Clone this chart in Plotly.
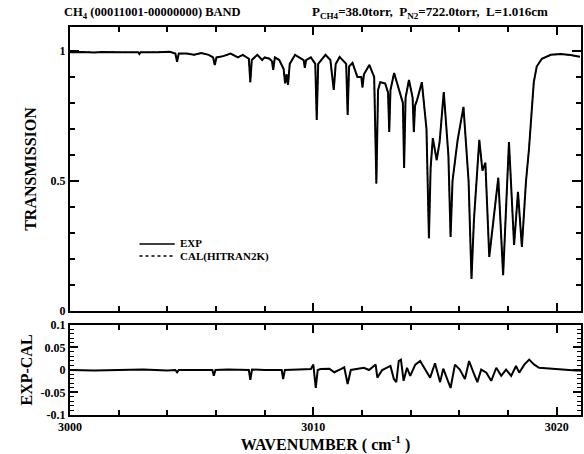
import plotly.graph_objects as go
from plotly.subplots import make_subplots

# ---- data ----
wavenumber = [3000.0, 3000.5, 3001.0, 3001.3, 3002.0, 3002.5, 3002.8, 3002.85, 3002.9, 3003.6, 3004.1,
              3004.33, 3004.40, 3004.47, 3004.8, 3005.1, 3005.4, 3005.7, 3005.88, 3005.95, 3006.02, 3006.3,
              3006.6, 3006.9, 3007.1, 3007.35, 3007.41, 3007.47, 3007.7, 3007.9, 3008.0, 3008.2, 3008.3,
              3008.35, 3008.42, 3008.6, 3008.78, 3008.84, 3008.9, 3008.96, 3009.03, 3009.25, 3009.45, 3009.6,
              3009.65, 3009.7, 3009.9, 3010.08, 3010.14, 3010.2, 3010.5, 3010.7, 3010.84, 3010.92, 3011.08,
              3011.35, 3011.41, 3011.47, 3011.61, 3011.73, 3011.81, 3011.97, 3012.02, 3012.08, 3012.30, 3012.5,
              3012.59, 3012.66, 3012.75, 3012.95, 3013.07, 3013.12, 3013.17, 3013.32, 3013.52, 3013.68, 3013.73,
              3013.79, 3013.93, 3014.08, 3014.13, 3014.18, 3014.26, 3014.46, 3014.65, 3014.75, 3014.82, 3014.91,
              3015.07, 3015.19, 3015.36, 3015.55, 3015.64, 3015.72, 3015.93, 3016.17, 3016.38, 3016.50, 3016.6,
              3016.82, 3016.95, 3017.07, 3017.23, 3017.39, 3017.60, 3017.80, 3018.04, 3018.25, 3018.41, 3018.57,
              3018.74, 3018.86, 3018.94, 3019.06, 3019.18, 3019.39, 3019.76, 3020.16, 3020.57, 3020.95]
transmission_exp = [0.995, 0.996, 0.994, 0.996, 0.995, 0.996, 0.995, 0.988, 0.995, 0.995, 0.997,
                    0.990, 0.958, 0.990, 0.990, 0.985, 0.992, 0.985, 0.975, 0.946, 0.975, 0.980,
                    0.990, 0.975, 0.985, 0.970, 0.880, 0.965, 0.985, 0.965, 0.975, 0.970, 0.960,
                    0.927, 0.975, 0.965, 0.930, 0.875, 0.910, 0.870, 0.950, 0.985, 0.975, 0.965,
                    0.935, 0.965, 0.975, 0.950, 0.735, 0.950, 0.985, 0.965, 0.850, 0.950, 0.977,
                    0.950, 0.754, 0.940, 0.954, 0.920, 0.900, 0.900, 0.860, 0.910, 0.946, 0.900,
                    0.490, 0.850, 0.880, 0.875, 0.840, 0.688, 0.850, 0.915, 0.850, 0.800, 0.550,
                    0.820, 0.888, 0.820, 0.688, 0.790, 0.810, 0.880, 0.700, 0.280, 0.550, 0.665,
                    0.580, 0.650, 0.842, 0.600, 0.285, 0.500, 0.658, 0.785, 0.500, 0.123, 0.350,
                    0.658, 0.540, 0.570, 0.208, 0.330, 0.512, 0.138, 0.650, 0.254, 0.458, 0.246,
                    0.500, 0.620, 0.730, 0.880, 0.940, 0.970, 0.985, 0.988, 0.984, 0.978]
transmission_cal = list(transmission_exp)  # overlaps EXP at the picture's resolution

res_wavenumber = [3000.0, 3001.0, 3002.0, 3003.0, 3004.0, 3004.33, 3004.4, 3004.47, 3005.0, 3005.85,
                  3005.91, 3005.98, 3006.5, 3007.35, 3007.41, 3007.48, 3008.0, 3008.7, 3008.76, 3008.83,
                  3009.4, 3009.9, 3010.0, 3010.1, 3010.18, 3010.3, 3010.66, 3010.86, 3011.13, 3011.27,
                  3011.41, 3011.54, 3012.08, 3012.29, 3012.56, 3012.63, 3012.83, 3013.03, 3013.17, 3013.31,
                  3013.41, 3013.51, 3013.60, 3013.71, 3013.85, 3013.98, 3014.19, 3014.39, 3014.60, 3014.80,
                  3015.00, 3015.21, 3015.34, 3015.48, 3015.64, 3015.82, 3016.02, 3016.23, 3016.40, 3016.57,
                  3016.74, 3016.90, 3017.11, 3017.31, 3017.52, 3017.72, 3017.92, 3018.13, 3018.33, 3018.46,
                  3018.67, 3018.87, 3019.08, 3019.28, 3019.55, 3019.96, 3020.78, 3021.0]
residual = [0.0, -0.001, 0.0, 0.001, -0.001, 0.0, -0.005, 0.0, 0.0, 0.0,
            -0.013, 0.0, 0.001, 0.0, -0.022, 0.001, 0.0, 0.0, -0.020, 0.0,
            0.001, 0.002, 0.012, -0.040, 0.0, 0.002, 0.003, -0.005, 0.002, 0.006,
            -0.031, 0.0, 0.005, 0.0, 0.012, -0.017, 0.0, 0.005, 0.009, -0.020,
            -0.027, 0.020, 0.023, -0.024, 0.005, -0.013, 0.012, 0.020, 0.001, -0.017,
            0.015, -0.027, 0.003, -0.017, -0.040, 0.012, 0.001, -0.020, 0.020, -0.004,
            -0.027, 0.001, -0.006, -0.024, 0.005, -0.013, 0.001, -0.013, 0.009, -0.006,
            0.012, 0.023, 0.012, 0.005, 0.004, 0.001, -0.001, -0.001]

x_tick_vals = [3000, 3010, 3020]
x_tick_text = ["3000", "3010", "3020"]
top_tick_vals = [0, 0.5, 1]
top_tick_text = ["0", "0.5", "1"]
bot_tick_vals = [-0.1, -0.05, 0, 0.05, 0.1]
bot_tick_text = ["-0.1", "-0.05", "0", "0.05", "0.1"]

FONT = "Liberation Serif"

fig = make_subplots(rows=2, cols=1, shared_xaxes=False, vertical_spacing=0.0)

fig.add_trace(go.Scatter(x=wavenumber, y=transmission_cal, mode="lines", name="CAL(HITRAN2K)",
                         line=dict(color="black", width=1.2, dash="dot"), showlegend=False), row=1, col=1)
fig.add_trace(go.Scatter(x=wavenumber, y=transmission_exp, mode="lines", name="EXP",
                         line=dict(color="black", width=2), showlegend=False), row=1, col=1)
fig.add_trace(go.Scatter(x=res_wavenumber, y=residual, mode="lines", name="EXP-CAL",
                         line=dict(color="black", width=2), showlegend=False), row=2, col=1)

axis_common = dict(showline=True, linecolor="black", linewidth=2, mirror="ticks",
                   ticks="inside", tickcolor="black", tickwidth=1.5, showgrid=False, zeroline=False,
                   tickfont=dict(family=FONT, size=12, color="black", weight="bold"))

fig.update_xaxes(**axis_common, range=[3000, 3021], tickvals=x_tick_vals, ticktext=x_tick_text,
                 ticklen=8, minor=dict(dtick=2, tick0=3000, ticks="inside", ticklen=5,
                                       tickcolor="black", tickwidth=1.5))
fig.update_xaxes(showticklabels=False, row=1, col=1)
fig.update_xaxes(title=dict(text="WAVENUMBER ( cm<sup>-1</sup> )", standoff=2,
                            font=dict(family=FONT, size=16, color="black", weight="bold")),
                 row=2, col=1)

fig.update_yaxes(**axis_common, row=1, col=1, range=[0, 1.092], tickvals=top_tick_vals,
                 ticktext=top_tick_text, ticklen=9,
                 minor=dict(dtick=0.1, tick0=0, ticks="inside", ticklen=5, tickcolor="black", tickwidth=1.5),
                 title=dict(text="TRANSMISSION", standoff=10,
                            font=dict(family=FONT, size=16, color="black", weight="bold")))
fig.update_yaxes(**axis_common, row=2, col=1, range=[-0.1, 0.1], tickvals=bot_tick_vals,
                 ticktext=bot_tick_text, ticklen=8,
                 minor=dict(dtick=0.01, tick0=0, ticks="inside", ticklen=4, tickcolor="black", tickwidth=1),
                 title=dict(text="EXP-CAL", standoff=4,
                            font=dict(family=FONT, size=16, color="black", weight="bold")))

fig.update_layout(
    width=584, height=454,
    margin=dict(l=70, r=1, t=27, b=39),
    paper_bgcolor="white", plot_bgcolor="white",
    font=dict(family=FONT, color="black"),
    xaxis=dict(domain=[0, 1]), xaxis2=dict(domain=[0, 1]),
    yaxis=dict(domain=[0.268, 1.0]), yaxis2=dict(domain=[0.0, 0.232]),
)

# header texts
fig.add_annotation(xref="paper", yref="paper", x=-0.016, y=1.0, yshift=4, xanchor="left", yanchor="bottom",
                   text="CH<sub>4</sub> (00011001-00000000) BAND", showarrow=False,
                   font=dict(family=FONT, size=12.5, color="black", weight="bold"))
fig.add_annotation(xref="paper", yref="paper", x=0.704, y=1.0, yshift=4, xanchor="center", yanchor="bottom",
                   text="P<sub>CH4</sub>=38.0torr,  P<sub>N2</sub>=722.0torr,  L=1.016cm", showarrow=False,
                   font=dict(family=FONT, size=13, color="black", weight="bold"))

# legend drawn inside the top panel
fig.add_shape(type="line", xref="x domain", yref="y domain", x0=0.136, x1=0.205, y0=0.236, y1=0.236,
              line=dict(color="black", width=1.5))
fig.add_shape(type="line", xref="x domain", yref="y domain", x0=0.136, x1=0.205, y0=0.194, y1=0.194,
              line=dict(color="black", width=1.5, dash="dot"))
fig.add_annotation(xref="x domain", yref="y domain", x=0.212, y=0.238, xanchor="left", yanchor="middle",
                   text="EXP", showarrow=False, font=dict(family=FONT, size=11, color="black", weight="bold"))
fig.add_annotation(xref="x domain", yref="y domain", x=0.212, y=0.192, xanchor="left", yanchor="middle",
                   text="CAL(HITRAN2K)", showarrow=False,
                   font=dict(family=FONT, size=11, color="black", weight="bold"))

fig.write_html("out.html", config={"displayModeBar": False},
               post_script="document.body.style.margin='0';document.body.style.overflow='hidden';")
